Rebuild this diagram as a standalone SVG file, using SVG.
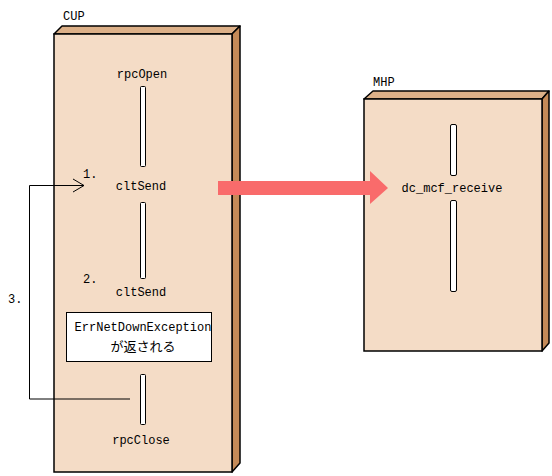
<svg xmlns="http://www.w3.org/2000/svg" width="552" height="476" viewBox="0 0 552 476">
<style>
.front{fill:#F4DCC6;stroke:#000;stroke-width:1.5}
.top{fill:#DCB088;stroke:#000;stroke-width:1.5;stroke-linejoin:round}
.side{fill:#C48A58;stroke:#000;stroke-width:1.5;stroke-linejoin:round}
.bar{fill:#fff;stroke:#000;stroke-width:1}
.t{font-family:"Liberation Mono","Noto Sans CJK JP",monospace;font-size:12px;fill:#000}
.jp{font-family:"Noto Sans CJK JP",sans-serif;font-size:13px;fill:#000}
.line{fill:none;stroke:#000;stroke-width:1}
</style>
<g id="cup">
<polygon class="top" points="54,34 62,26 240,26 232,34"/>
<polygon class="side" points="232,34 240,26 240,463 232,472"/>
<rect class="front" x="54" y="34" width="178" height="438"/>
<text class="t" x="63" y="20">CUP</text>
<text class="t" x="142" y="78" text-anchor="middle">rpcOpen</text>
<rect class="bar" x="140.5" y="86.5" width="5" height="80" rx="1"/>
<text class="t" x="83" y="178">1.</text>
<text class="t" x="141" y="190" text-anchor="middle">cltSend</text>
<rect class="bar" x="140.5" y="202.5" width="5" height="76" rx="1"/>
<text class="t" x="83" y="283">2.</text>
<text class="t" x="141" y="296" text-anchor="middle">cltSend</text>
<rect class="bar" x="140.5" y="374.5" width="5" height="50" rx="1"/>
<text class="t" x="141" y="444" text-anchor="middle">rpcClose</text>
</g>
<g id="error-note">
<rect x="66.5" y="312.5" width="145" height="49" fill="#fff" stroke="#000" stroke-width="1"/>
<text class="t" x="143" y="331" text-anchor="middle">ErrNetDownException</text>
<text class="jp" x="143" y="351" text-anchor="middle">が返される</text>
</g>
<g id="mhp">
<polygon class="top" points="364,99 373,91 549,91 542,99"/>
<polygon class="side" points="542,99 549,91 549,343 542,351"/>
<rect class="front" x="364" y="99" width="178" height="252"/>
<text class="t" x="373" y="86">MHP</text>
<rect class="bar" x="450.5" y="124.5" width="6" height="51" rx="1.5"/>
<text class="t" x="452" y="192" text-anchor="middle">dc_mcf_receive</text>
<rect class="bar" x="450.5" y="200.5" width="6" height="91" rx="1.5"/>
</g>
<g id="connectors">
<polyline class="line" points="130,399 29.5,399 29.5,185.5 84,185.5"/>
<polyline class="line" points="73,179 84,185.5 73,192"/>
<text class="t" x="8" y="303">3.</text>
<polygon fill="#F96B6B" points="218,181 370,181 370,171 388,188 370,204 370,195 218,195"/>
</g>
</svg>
